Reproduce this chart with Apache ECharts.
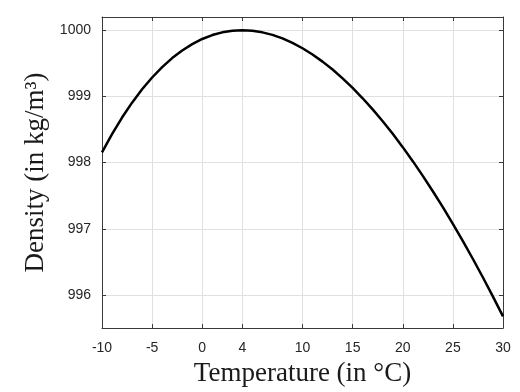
<!DOCTYPE html>
<html><head><meta charset="utf-8">
<script src="https://cdn.jsdelivr.net/npm/echarts@6/dist/echarts.min.js"></script>
<style>html,body{margin:0;padding:0;background:#fff}#c{width:520px;height:392px}</style>
</head><body><div id="c"></div>
<script>
var temperatures = [-10,-9,-8,-7,-6,-5,-4,-3,-2,-1,0,1,2,3,4,5,6,7,8,9,10,11,12,13,14,15,16,17,18,19,20,21,22,23,24,25,26,27,28,29,30];
var densities = [998.156,998.431,998.681,998.906,999.108,999.286,999.443,999.579,999.694,999.790,999.868,999.927,999.968,999.992,1000.000,999.992,999.968,999.930,999.877,999.809,999.728,999.634,999.526,999.406,999.273,999.129,998.972,998.804,998.625,998.435,998.234,998.022,997.800,997.568,997.327,997.075,996.814,996.544,996.264,995.976,995.678];
var xTicks = [-10,-5,0,4,10,15,20,25,30];
var yTicks = [996,997,998,999,1000];
var xTitle = 'Temperature (in °C)';
var yTitle = 'Density (in kg/m³)';

var data = temperatures.map(function(t,i){return [t, densities[i]];});
var axisColor = '#3a3a3a';
var gridColor = '#e0e0e0';
var labelFont = {fontFamily:'Liberation Sans', fontSize:14, color:'#262626'};
function fmt(v){ return String(v); }

function xAx(pos, show){
  return {type:'value', position:pos, min:-10, max:30,
    axisLine:{show:true, onZero:false, lineStyle:{color:axisColor, width:1}},
    axisTick:{show:true, inside:true, length:4, customValues:xTicks, lineStyle:{color:axisColor}},
    axisLabel:Object.assign({show:show, margin:13, customValues:xTicks, formatter:fmt}, labelFont),
    splitLine:{show:show, lineStyle:{color:gridColor, width:1}},
    name: show ? xTitle : '', nameLocation:'middle', nameGap:31,
    nameTextStyle:{fontFamily:'Liberation Serif', fontSize:27, color:'#1a1a1a'}
  };
}
function yAx(pos, show){
  return {type:'value', position:pos, min:995.5, max:1000.2,
    axisLine:{show:true, onZero:false, lineStyle:{color:axisColor, width:1}},
    axisTick:{show:true, inside:true, length:4, customValues:yTicks, lineStyle:{color:axisColor}},
    axisLabel:Object.assign({show:show, margin:11, customValues:yTicks, formatter:fmt}, labelFont),
    splitLine:{show:show, lineStyle:{color:gridColor, width:1}},
    name: show ? yTitle : '', nameLocation:'middle', nameGap:52, nameRotate:90,
    nameTextStyle:{fontFamily:'Liberation Serif', fontSize:27, color:'#1a1a1a'}
  };
}
var chart = echarts.init(document.getElementById('c'), null, {renderer:'canvas'});
chart.setOption({
  animation:false,
  backgroundColor:'#fff',
  grid:{left:102, right:17, top:17, bottom:62, containLabel:false},
  xAxis:[xAx('bottom', true), xAx('top', false)],
  yAxis:[yAx('left', true), yAx('right', false)],
  series:[{type:'line', xAxisIndex:0, yAxisIndex:0, data:data, showSymbol:false, smooth:false,
    lineStyle:{color:'#000', width:2.5}}]
});
</script></body></html>
